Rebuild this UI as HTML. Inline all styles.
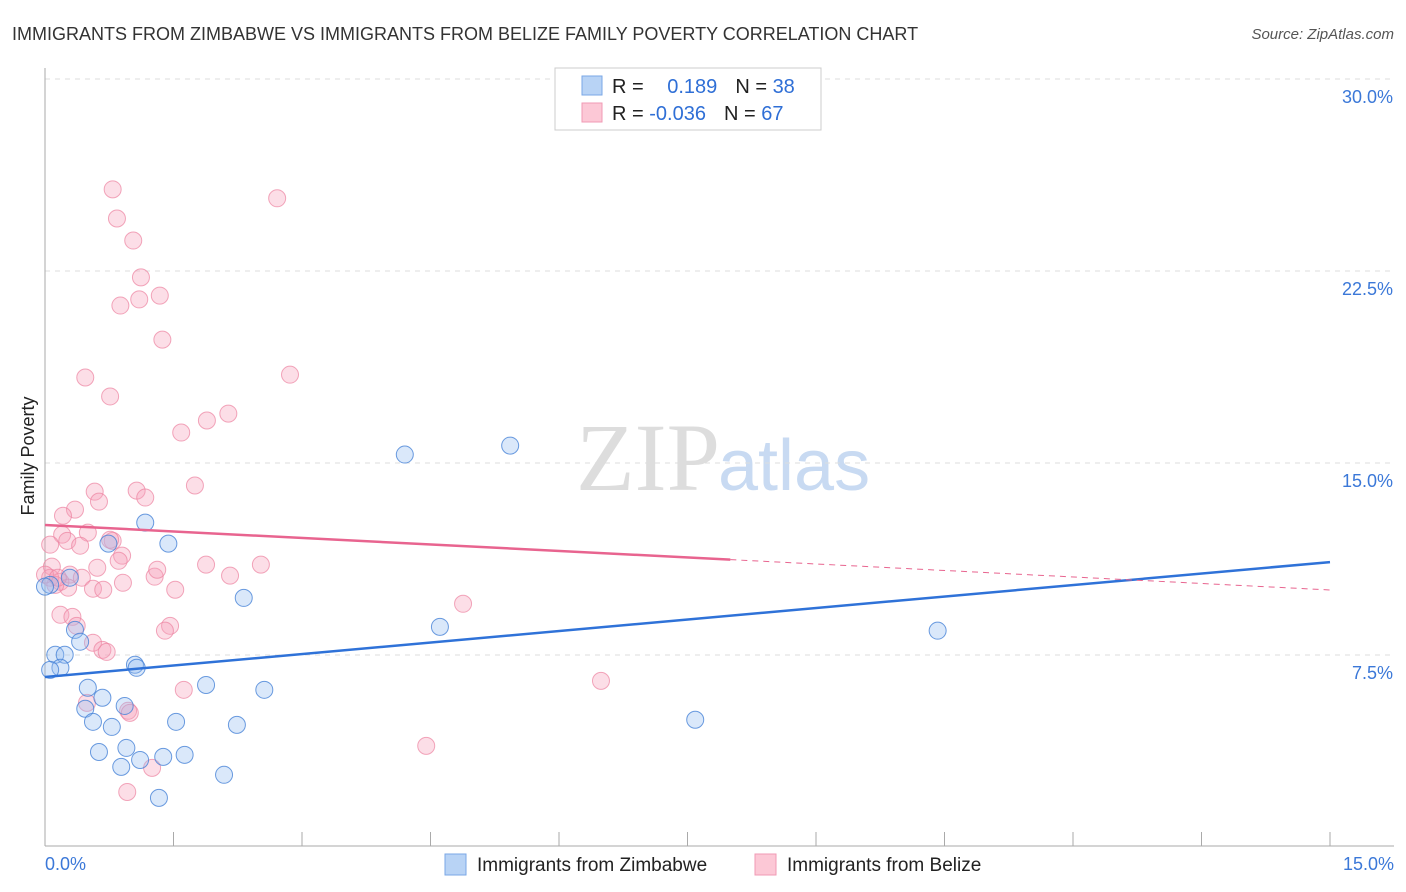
<!DOCTYPE html>
<html><head><meta charset="utf-8"><style>
body{margin:0;background:#fff;font-family:"Liberation Sans",sans-serif;}
svg{display:block}
</style></head><body>
<svg id="chart" width="1406" height="892" xmlns="http://www.w3.org/2000/svg">
<text x="12" y="40" font-size="18" fill="#333">IMMIGRANTS FROM ZIMBABWE VS IMMIGRANTS FROM BELIZE FAMILY POVERTY CORRELATION CHART</text>
<text x="1394" y="39" font-size="15" fill="#555" font-style="italic" text-anchor="end">Source: ZipAtlas.com</text>
<text x="720" y="490" font-size="96" font-family="Liberation Serif" fill="#ddd" text-anchor="end">ZIP</text>
<text x="718" y="490" font-size="72" fill="#c8daf2">atlas</text>
<text transform="translate(34,456) rotate(-90)" font-size="18" fill="#222" text-anchor="middle">Family Poverty</text>
<g id="grid"></g><g id="pts"></g><g id="lines"></g>
<g>
<rect x="555" y="68" width="266" height="62" fill="#fff" stroke="#ccc"/>
<rect x="582" y="76" width="20" height="19" fill="#b8d3f5" stroke="#7aa7e6"/>
<rect x="582" y="103" width="20" height="19" fill="#fcc8d6" stroke="#f09ab4"/>
<text x="612" y="93" font-size="20" fill="#222">R = <tspan fill="#2f6fd6" dx="18">0.189</tspan><tspan dx="18" fill="#222">N = </tspan><tspan fill="#2f6fd6">38</tspan></text>
<text x="612" y="120" font-size="20" fill="#222">R = <tspan fill="#2f6fd6">-0.036</tspan><tspan dx="18" fill="#222">N = </tspan><tspan fill="#2f6fd6">67</tspan></text>
</g>
<g>
<rect x="445" y="854" width="21" height="21" fill="#b8d3f5" stroke="#7aa7e6"/>
<text x="477" y="871" font-size="19" fill="#222">Immigrants from Zimbabwe</text>
<rect x="755" y="854" width="21" height="21" fill="#fcc8d6" stroke="#f09ab4"/>
<text x="787" y="871" font-size="19" fill="#222">Immigrants from Belize</text>
</g>
</svg>
<script>
const yTicks=[7.5,15,22.5,30];
const yTickLabels=["7.5%","15.0%","22.5%","30.0%"];
const xTickLabels=["0.0%","15.0%"];
const blueX=[4.20,5.43,10.42,7.59,4.61,1.17,1.44,0.74,2.32,0.29,0.06,0.35,0.41,0.12,0.23,0.18,1.05,1.07,0.50,0.67,0.47,0.93,0.56,0.78,1.53,1.88,2.56,2.24,0.63,0.95,1.11,1.38,1.63,0.89,2.09,1.33,0.06,0.0];
const blueY=[15.33,15.68,8.45,4.97,8.60,12.67,11.85,11.85,9.73,10.52,10.24,8.48,8.02,7.51,7.51,7.00,7.12,7.00,6.22,5.83,5.40,5.51,4.89,4.69,4.89,6.33,6.14,4.77,3.71,3.87,3.40,3.52,3.60,3.13,2.82,1.92,6.92,10.17];
const pinkX=[0.79,0.84,1.03,2.71,1.12,0.88,1.10,1.34,1.37,2.86,0.47,0.76,2.14,1.89,1.59,1.75,0.58,1.07,1.17,0.63,0.35,0.21,0.20,0.50,0.26,0.41,0.06,0.79,0.90,0.86,0.08,0.29,0.61,0.43,0.18,0.27,0.56,0.68,0.91,1.28,1.31,1.52,1.88,2.16,2.52,4.88,0.18,0.32,0.37,1.46,1.40,0.56,0.67,0.72,1.62,6.49,0.49,0.97,0.99,1.25,0.96,4.45,0.06,0.12,0.0,0.76,0.15];
const pinkY=[25.69,24.55,23.69,25.34,22.25,21.15,21.39,21.54,19.82,18.45,18.34,17.60,16.93,16.66,16.19,14.12,13.88,13.92,13.65,13.49,13.18,12.94,12.20,12.28,11.96,11.77,11.81,11.96,11.38,11.18,10.95,10.64,10.91,10.52,10.36,10.13,10.09,10.05,10.32,10.56,10.83,10.05,11.03,10.60,11.03,9.50,9.07,8.99,8.64,8.64,8.45,7.98,7.70,7.62,6.14,6.49,5.63,5.32,5.24,3.09,2.15,3.95,10.52,10.24,10.64,12.0,10.52];
const blueTrend=[6.64,11.13];
const pinkTrend=[12.58,10.04];
const pinkSolidEnd=8.0;
const NS="http://www.w3.org/2000/svg";
const X=v=>45+v/15*1285, Y=v=>847-v/7.5*192;
function mk(t,a,p){const e=document.createElementNS(NS,t);for(const k in a)e.setAttribute(k,a[k]);p.appendChild(e);return e;}
const g=document.getElementById('grid');
yTicks.forEach((t,i)=>{
 const l=mk('line',{x1:45,x2:1394,y1:Y(t),y2:Y(t),stroke:'#ddd','stroke-dasharray':'5,5'},g);
 
 
 const tx=mk('text',{x:1393,y:Y(t)+24,'font-size':18,fill:'#3b78d8','text-anchor':'end'},g);
 tx.textContent=yTickLabels[i];
 
 
});
const ax=mk('line',{x1:45,x2:45,y1:68,y2:846,stroke:'#aaa'},g);


const bx=mk('line',{x1:45,x2:1394,y1:846,y2:846,stroke:'#aaa'},g);


for(let i=0;i<=10;i++){const t=mk('line',{x1:X(i*1.5),x2:X(i*1.5),y1:832,y2:846,stroke:'#aaa'},g);
 
 }
[[0,'start',45],[1,'end',1394]].forEach(([i,a,x])=>{const t=mk('text',{x:x,y:870,'font-size':18,fill:'#3b78d8','text-anchor':a},g);t.textContent=xTickLabels[i];
 
 });
const p=document.getElementById('pts');
pinkX.forEach((x,i)=>{const c=mk('circle',{cx:X(x),cy:Y(pinkY[i]),r:8.5,fill:'rgba(246,160,185,0.35)',stroke:'rgba(236,130,160,0.7)','stroke-width':1},p);
 
 });
blueX.forEach((x,i)=>{const c=mk('circle',{cx:X(x),cy:Y(blueY[i]),r:8.5,fill:'rgba(150,190,240,0.35)',stroke:'rgba(70,130,215,0.8)','stroke-width':1},p);
 
 });
const L=document.getElementById('lines');
const bl=mk('line',{x1:X(0),y1:Y(blueTrend[0]),x2:X(15),y2:Y(blueTrend[1]),stroke:'#2f72d8','stroke-width':2.5},L);


const pm=pinkTrend[0]+(pinkTrend[1]-pinkTrend[0])*pinkSolidEnd/15;
const pl=mk('line',{x1:X(0),y1:Y(pinkTrend[0]),x2:X(pinkSolidEnd),y2:Y(pm),stroke:'#e8648f','stroke-width':2.5},L);


const pd=mk('line',{x1:X(pinkSolidEnd),y1:Y(pm),x2:X(15),y2:Y(pinkTrend[1]),stroke:'#e8648f','stroke-width':1,'stroke-dasharray':'6,5'},L);


</script>
</body></html>
